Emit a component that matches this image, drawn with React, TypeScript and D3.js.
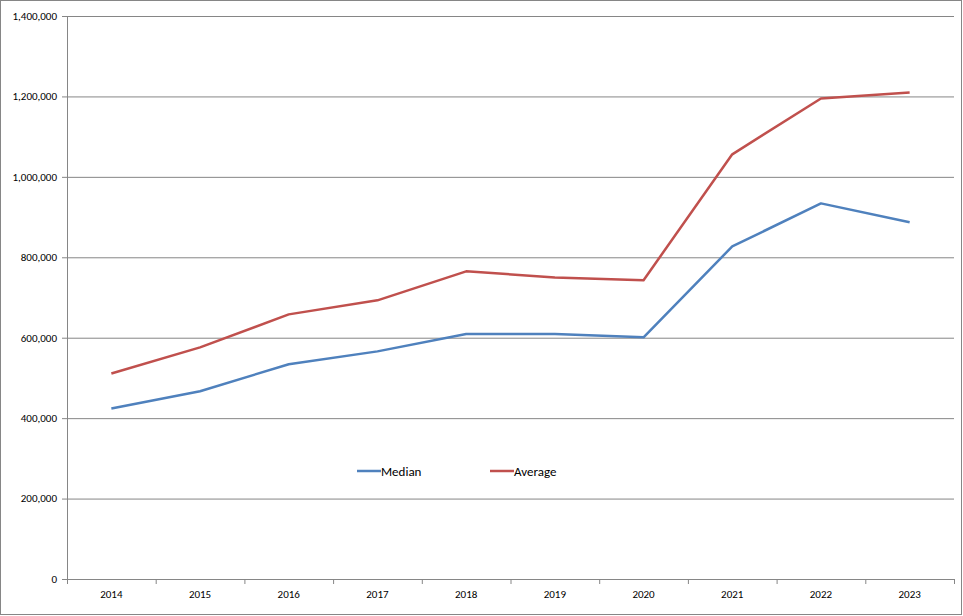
import React from "react";
import * as d3 from "d3";

const years = ["2014", "2015", "2016", "2017", "2018", "2019", "2020", "2021", "2022", "2023"];
const median = [424000, 467000, 534000, 566000, 609000, 609000, 601000, 827000, 934000, 887000];
const average = [511000, 576000, 658000, 693000, 765000, 750000, 743000, 1056000, 1195000, 1210000];
const yTicks = [0, 200000, 400000, 600000, 800000, 1000000, 1200000, 1400000];

const W = 963;
const H = 616;
const margin = { top: 16, right: 9, bottom: 37, left: 67 };
const font = "Calibri, Carlito, 'Liberation Sans Narrow', 'Open Sans', sans-serif";

const App = () => {
  const innerW = W - margin.left - margin.right;
  const innerH = H - margin.top - margin.bottom;

  const x = d3.scaleBand().domain(years).range([0, innerW]);
  const y = d3.scaleLinear().domain([0, 1400000]).range([innerH, 0]);
  const fmt = d3.format(",");

  const line = d3
    .line<number>()
    .x((_, i) => x(years[i])! + x.bandwidth() / 2)
    .y((d) => y(d));

  const series = [
    { name: "Median", values: median, color: "#4F81BD", lx: 357 },
    { name: "Average", values: average, color: "#C0504D", lx: 490 },
  ];

  return (
    <div style={{ position: "absolute", left: 0, top: 0 }}>
      <svg width={W} height={H} style={{ display: "block" }}>
        <rect x={0.5} y={0.5} width={W - 2} height={H - 2} fill="#fff" stroke="#868686" />
        <g transform={`translate(${margin.left},${margin.top})`}>
          {yTicks.map((t) => (
            <g key={t}>
              {t > 0 && (
                <line x1={0} x2={innerW} y1={y(t) + 0.5} y2={y(t) + 0.5} stroke="#868686" />
              )}
              <line x1={-5} x2={0} y1={y(t) + 0.5} y2={y(t) + 0.5} stroke="#868686" />
              <text
                x={-10}
                y={y(t)}
                dy="0.35em"
                textAnchor="end"
                fontSize={11}
                fontFamily={font}
                fill="#000"
              >
                {fmt(t)}
              </text>
            </g>
          ))}
          <line x1={0.5} x2={0.5} y1={0} y2={innerH} stroke="#868686" />
          <line x1={0} x2={innerW} y1={innerH + 0.5} y2={innerH + 0.5} stroke="#868686" />
          {years.map((yr, i) => (
            <g key={yr}>
              <line
                x1={x(yr)! + x.bandwidth() + 0.5}
                x2={x(yr)! + x.bandwidth() + 0.5}
                y1={innerH}
                y2={innerH + 5}
                stroke="#868686"
              />
              {i === 0 && (
                <line x1={0.5} x2={0.5} y1={innerH} y2={innerH + 5} stroke="#868686" />
              )}
              <text
                x={x(yr)! + x.bandwidth() / 2}
                y={innerH + 19}
                textAnchor="middle"
                fontSize={11}
                fontFamily={font}
                fill="#000"
              >
                {yr}
              </text>
            </g>
          ))}
          {series.map((s) => (
            <path
              key={s.name}
              d={line(s.values)!}
              fill="none"
              stroke={s.color}
              strokeWidth={2.5}
              strokeLinejoin="round"
            />
          ))}
        </g>
        {series.map((s) => (
          <g key={s.name}>
            <line x1={s.lx} x2={s.lx + 24} y1={471} y2={471} stroke={s.color} strokeWidth={2.5} />
            <text x={s.lx + 24} y={471} dy="0.35em" fontSize={13} fontFamily={font} fill="#000">
              {s.name}
            </text>
          </g>
        ))}
      </svg>
    </div>
  );
};

export default App;
